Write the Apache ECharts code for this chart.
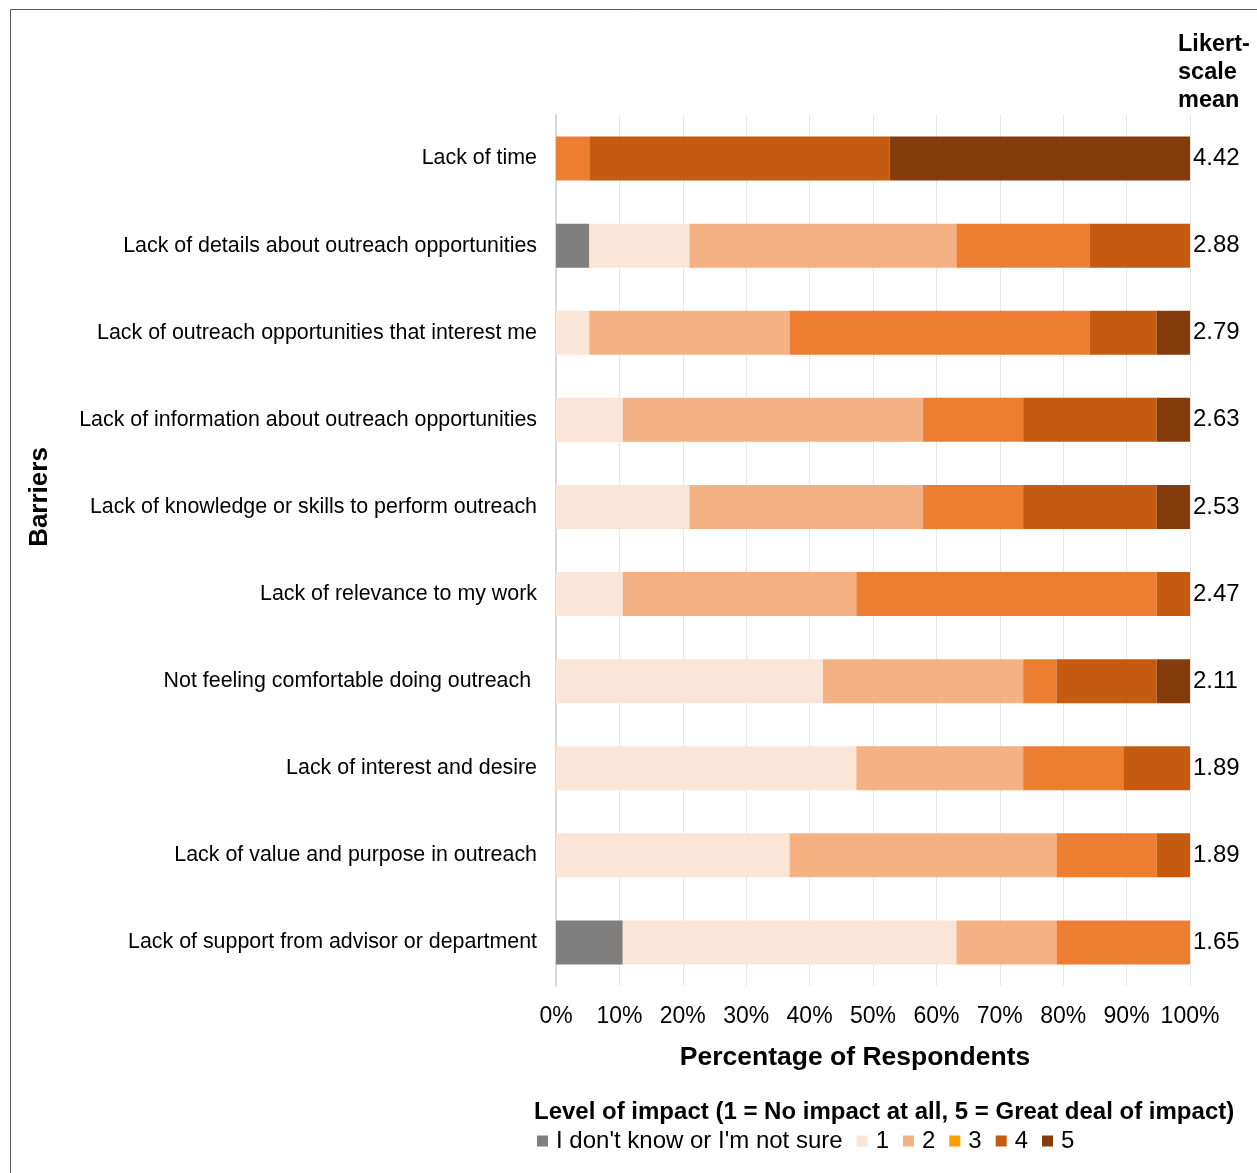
<!DOCTYPE html>
<html>
<head>
<meta charset="utf-8">
<script src="https://cdn.jsdelivr.net/npm/echarts@6/dist/echarts.min.js"></script>
<style>
html,body{margin:0;padding:0;background:#fff;}
#chart{width:1257px;height:1173px;}
</style>
</head>
<body>
<div id="chart"></div>
<script>
const categories = [
  'Lack of time',
  'Lack of details about outreach opportunities',
  'Lack of outreach opportunities that interest me',
  'Lack of information about outreach opportunities',
  'Lack of knowledge or skills to perform outreach',
  'Lack of relevance to my work',
  'Not feeling comfortable doing outreach ',
  'Lack of interest and desire',
  'Lack of value and purpose in outreach',
  'Lack of support from advisor or department'
];
const likertMeans = ['4.42','2.88','2.79','2.63','2.53','2.47','2.11','1.89','1.89','1.65'];
const seriesNames = ["I don't know or I'm not sure", '1', '2', '3', '4', '5'];
const dontKnow = [0, 5.26, 0, 0, 0, 0, 0, 0, 0, 10.53];
const level1   = [0, 15.79, 5.26, 10.53, 21.05, 10.53, 42.11, 47.37, 36.84, 52.63];
const level2   = [0, 42.11, 31.58, 47.37, 36.84, 36.84, 31.58, 26.32, 42.11, 15.79];
const level3   = [5.26, 21.05, 47.37, 15.79, 15.79, 47.37, 5.26, 15.79, 15.79, 21.05];
const level4   = [47.37, 15.79, 10.53, 21.05, 21.05, 5.26, 15.79, 10.53, 5.26, 0];
const level5   = [47.37, 0, 5.26, 5.26, 5.26, 0, 5.26, 0, 0, 0];
const xTicks = [0, 10, 20, 30, 40, 50, 60, 70, 80, 90, 100];

const barColors = ['#7F7F7F', '#FBE5D6', '#F4B183', '#ED7D31', '#C55A11', '#843C0C'];
const legendColors = ['#7F7F7F', '#FBE5D6', '#F4B183', '#FF9E00', '#C55A11', '#843C0C'];
const values = [dontKnow, level1, level2, level3, level4, level5];

const FONT = '"Liberation Sans", Arial, sans-serif';
const chart = echarts.init(document.getElementById('chart'), null, {renderer: 'canvas'});

const series = seriesNames.map((n, i) => ({
  name: n,
  type: 'bar',
  stack: 'total',
  barWidth: 44,
  itemStyle: {color: barColors[i]},
  data: values[i],
  silent: true
}));

chart.setOption({
  animation: false,
  backgroundColor: '#fff',
  textStyle: {fontFamily: FONT},
  grid: {left: 556, right: 67, top: 115, bottom: 187, containLabel: false},
  xAxis: {
    type: 'value', min: xTicks[0], max: xTicks[xTicks.length - 1], interval: 10,
    axisLine: {show: false}, axisTick: {show: false},
    splitLine: {show: true, lineStyle: {color: '#E6E6E6', width: 1}},
    axisLabel: {formatter: '{value}%', fontSize: 23, color: '#000', margin: 19, fontFamily: FONT}
  },
  yAxis: [{
    type: 'category', data: categories, inverse: true,
    axisLine: {show: true, lineStyle: {color: '#D9D9D9', width: 2}},
    axisTick: {show: false},
    axisLabel: {fontSize: 21.4, color: '#000', margin: 19, fontFamily: FONT, padding: [8, 0, 0, 0]}
  }, {
    type: 'category', data: likertMeans, inverse: true, position: 'right',
    axisLine: {show: false}, axisTick: {show: false},
    axisLabel: {fontSize: 24, color: '#000', margin: 3, fontFamily: FONT}
  }],
  legend: {
    left: 532, top: 1124, icon: 'rect', itemWidth: 11, itemHeight: 11, itemGap: 14,
    textStyle: {fontSize: 24, color: '#000', fontFamily: FONT, padding: [0, 0, 0, 3]},
    selectedMode: false,
    data: seriesNames.map((n, i) => ({name: n, itemStyle: {color: legendColors[i]}}))
  },
  graphic: [
    {type: 'rect', shape: {x: 10.5, y: 9.5, width: 1400, height: 1400}, style: {fill: 'none', stroke: '#595959', lineWidth: 1}, silent: true},
    {type: 'text', x: 40, y: 497, rotation: Math.PI / 2,
     style: {text: 'Barriers', font: 'bold 26px ' + FONT, fill: '#000', textAlign: 'center', textVerticalAlign: 'middle'}},
    {type: 'text', x: 855, y: 1058,
     style: {text: 'Percentage of Respondents', font: 'bold 26.5px ' + FONT, fill: '#000', textAlign: 'center', textVerticalAlign: 'middle'}},
    {type: 'text', x: 534, y: 1112,
     style: {text: 'Level of impact (1 = No impact at all, 5 = Great deal of impact)', font: 'bold 24px ' + FONT, fill: '#000', textAlign: 'left', textVerticalAlign: 'middle'}},
    {type: 'text', x: 1178, y: 31,
     style: {text: 'Likert-\nscale\nmean', font: 'bold 23.5px ' + FONT, lineHeight: 28, fill: '#000', textAlign: 'left', textVerticalAlign: 'top'}}
  ],
  series: series
});
</script>
</body>
</html>
